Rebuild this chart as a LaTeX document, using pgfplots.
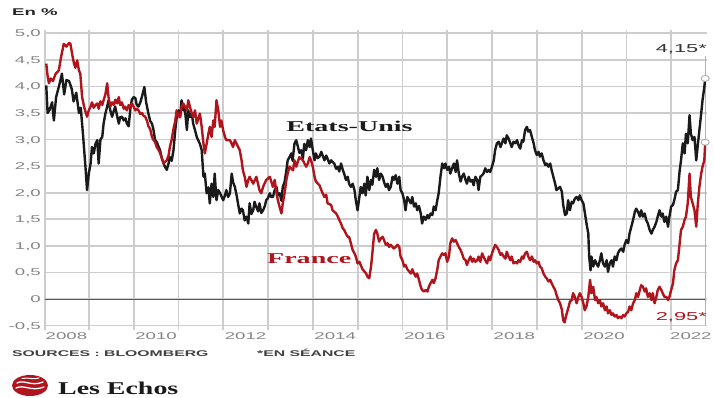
\documentclass[border=0pt]{standalone}
\usepackage{fontspec}
\usepackage{pgfplots}
\usepackage{pgfplotstable}
\pgfplotsset{compat=1.18}
\newfontfamily\sansw[FakeStretch=1.9]{Liberation Sans}
\newfontfamily\serifw[FakeStretch=1.87]{Liberation Serif}
\newfontfamily\serifl[FakeStretch=1.55]{Liberation Serif}
\definecolor{frred}{HTML}{B0141C}
\definecolor{usblack}{HTML}{1A1A1A}
\definecolor{gridc}{HTML}{CDCDCD}
\definecolor{tickc}{HTML}{858585}

\pgfplotstableread{
x y
2008.05 4.02
2008.08 3.50
2008.12 3.55
2008.18 3.70
2008.22 3.36
2008.27 3.80
2008.33 3.99
2008.40 4.24
2008.45 3.85
2008.50 4.12
2008.56 4.10
2008.62 3.95
2008.66 3.72
2008.72 3.88
2008.78 3.50
2008.82 3.60
2008.87 3.10
2008.93 2.43
2008.96 2.05
2009.00 2.36
2009.04 2.55
2009.07 2.86
2009.11 2.74
2009.15 2.92
2009.19 2.99
2009.22 2.55
2009.26 3.00
2009.30 3.05
2009.33 3.30
2009.37 3.49
2009.41 3.62
2009.44 3.74
2009.48 3.55
2009.52 3.43
2009.56 3.55
2009.59 3.62
2009.63 3.45
2009.67 3.30
2009.70 3.42
2009.74 3.43
2009.78 3.36
2009.82 3.40
2009.85 3.30
2009.89 3.25
2009.93 3.60
2009.96 3.75
2010.00 3.80
2010.04 3.78
2010.07 3.65
2010.11 3.62
2010.15 3.70
2010.20 3.85
2010.24 3.99
2010.28 3.70
2010.33 3.49
2010.37 3.35
2010.41 3.30
2010.44 3.20
2010.48 2.99
2010.52 2.95
2010.55 2.88
2010.59 2.80
2010.63 2.65
2010.67 2.55
2010.70 2.49
2010.74 2.43
2010.78 2.55
2010.81 2.67
2010.85 2.60
2010.89 2.80
2010.93 3.18
2010.96 3.40
2011.00 3.55
2011.04 3.45
2011.07 3.74
2011.11 3.55
2011.14 3.61
2011.19 3.18
2011.22 3.55
2011.26 3.42
2011.30 3.49
2011.33 3.30
2011.37 3.18
2011.41 3.05
2011.44 2.99
2011.48 2.92
2011.52 2.80
2011.56 2.30
2011.59 2.36
2011.63 1.99
2011.67 2.10
2011.70 1.80
2011.74 2.17
2011.78 1.92
2011.81 2.36
2011.85 1.86
2011.89 2.05
2011.93 1.99
2012.00 1.86
2012.04 1.95
2012.07 2.05
2012.11 1.92
2012.15 1.99
2012.19 2.36
2012.22 2.20
2012.26 2.11
2012.30 1.95
2012.33 1.80
2012.37 1.61
2012.41 1.70
2012.44 1.67
2012.48 1.48
2012.52 1.55
2012.56 1.42
2012.59 1.80
2012.63 1.60
2012.67 1.67
2012.70 1.83
2012.74 1.73
2012.78 1.65
2012.81 1.80
2012.85 1.62
2012.89 1.67
2012.93 1.75
2012.96 1.86
2013.00 1.90
2013.04 1.99
2013.07 1.92
2013.11 1.92
2013.15 2.05
2013.19 2.11
2013.22 1.95
2013.26 1.99
2013.30 1.85
2013.33 2.11
2013.37 2.20
2013.41 2.42
2013.44 2.61
2013.48 2.67
2013.52 2.74
2013.55 2.60
2013.59 2.92
2013.63 2.99
2013.67 2.86
2013.70 2.75
2013.74 2.80
2013.78 2.65
2013.81 2.92
2013.85 2.80
2013.89 2.99
2013.93 2.86
2013.96 3.02
2014.00 2.80
2014.04 2.61
2014.07 2.74
2014.11 2.65
2014.15 2.68
2014.19 2.77
2014.22 2.70
2014.26 2.61
2014.30 2.70
2014.33 2.64
2014.37 2.55
2014.41 2.61
2014.44 2.58
2014.48 2.55
2014.52 2.45
2014.56 2.49
2014.59 2.40
2014.63 2.55
2014.67 2.43
2014.70 2.36
2014.74 2.24
2014.78 2.30
2014.81 2.17
2014.85 2.11
2014.89 2.17
2014.93 2.05
2014.96 1.86
2015.00 1.67
2015.04 1.92
2015.07 2.11
2015.11 1.99
2015.15 2.17
2015.18 1.95
2015.22 2.30
2015.26 2.05
2015.30 2.24
2015.33 2.15
2015.37 2.43
2015.41 2.30
2015.44 2.46
2015.48 2.24
2015.52 2.36
2015.56 2.30
2015.59 2.20
2015.63 2.11
2015.67 2.17
2015.70 2.05
2015.74 2.11
2015.78 2.30
2015.81 2.24
2015.85 2.33
2015.89 2.17
2015.93 2.30
2015.96 2.05
2016.00 1.99
2016.04 1.86
2016.07 1.67
2016.11 1.92
2016.15 1.86
2016.19 1.80
2016.22 1.92
2016.26 1.74
2016.30 1.80
2016.33 1.67
2016.37 1.75
2016.41 1.61
2016.44 1.42
2016.48 1.55
2016.52 1.49
2016.56 1.58
2016.59 1.52
2016.63 1.61
2016.67 1.58
2016.70 1.74
2016.74 1.67
2016.78 1.86
2016.81 1.99
2016.85 2.30
2016.89 2.55
2016.93 2.46
2016.96 2.55
2017.00 2.43
2017.04 2.49
2017.07 2.36
2017.11 2.46
2017.15 2.55
2017.19 2.39
2017.22 2.61
2017.26 2.36
2017.30 2.21
2017.33 2.30
2017.37 2.36
2017.41 2.24
2017.44 2.17
2017.48 2.30
2017.52 2.21
2017.56 2.24
2017.59 2.14
2017.63 2.30
2017.67 2.24
2017.70 2.05
2017.74 2.30
2017.78 2.33
2017.81 2.36
2017.85 2.46
2017.89 2.39
2017.93 2.43
2017.96 2.39
2018.00 2.49
2018.04 2.61
2018.07 2.80
2018.11 2.93
2018.15 2.96
2018.19 2.86
2018.22 2.93
2018.26 3.02
2018.30 2.93
2018.33 3.08
2018.37 3.02
2018.41 2.93
2018.44 2.86
2018.48 2.96
2018.52 2.93
2018.56 2.99
2018.59 2.90
2018.63 2.83
2018.67 2.99
2018.70 2.96
2018.74 3.18
2018.78 3.24
2018.81 3.15
2018.85 3.18
2018.89 3.05
2018.93 2.93
2018.96 2.80
2019.00 2.71
2019.04 2.77
2019.07 2.68
2019.11 2.74
2019.15 2.61
2019.19 2.52
2019.22 2.55
2019.26 2.49
2019.30 2.55
2019.33 2.43
2019.37 2.30
2019.41 2.17
2019.44 2.05
2019.48 2.08
2019.52 2.11
2019.56 2.02
2019.59 1.77
2019.63 1.58
2019.67 1.61
2019.70 1.86
2019.74 1.67
2019.78 1.83
2019.81 1.80
2019.85 1.89
2019.89 1.92
2019.93 1.86
2019.96 1.95
2020.00 1.86
2020.04 1.80
2020.07 1.64
2020.11 1.42
2020.15 1.23
2020.17 0.80
2020.20 0.54
2020.22 0.80
2020.26 0.61
2020.30 0.73
2020.33 0.67
2020.37 0.61
2020.41 0.73
2020.44 0.86
2020.48 0.67
2020.52 0.61
2020.56 0.73
2020.59 0.51
2020.63 0.67
2020.67 0.73
2020.70 0.61
2020.74 0.80
2020.78 0.73
2020.81 0.86
2020.85 0.92
2020.89 0.95
2020.93 0.89
2020.96 1.02
2021.00 1.11
2021.04 1.05
2021.07 1.23
2021.11 1.36
2021.15 1.49
2021.19 1.64
2021.22 1.70
2021.26 1.64
2021.30 1.55
2021.33 1.67
2021.37 1.55
2021.41 1.61
2021.44 1.49
2021.48 1.42
2021.52 1.30
2021.56 1.23
2021.59 1.30
2021.63 1.36
2021.67 1.45
2021.70 1.55
2021.74 1.67
2021.78 1.55
2021.81 1.61
2021.85 1.45
2021.89 1.55
2021.93 1.36
2021.96 1.55
2022.00 1.74
2022.04 1.77
2022.07 1.86
2022.11 2.02
2022.15 2.05
2022.19 2.42
2022.22 2.61
2022.26 2.93
2022.30 2.74
2022.33 3.11
2022.37 2.93
2022.41 3.46
2022.44 3.11
2022.48 2.99
2022.52 3.05
2022.56 2.61
2022.59 2.86
2022.63 3.18
2022.67 3.49
2022.70 3.74
2022.74 3.99
2022.76 4.15
}\usdata

\pgfplotstableread{
x y
2008.05 4.43
2008.08 4.20
2008.11 4.06
2008.15 4.15
2008.20 4.10
2008.26 4.24
2008.33 4.30
2008.38 4.55
2008.44 4.80
2008.50 4.75
2008.56 4.82
2008.59 4.80
2008.63 4.60
2008.67 4.43
2008.70 4.35
2008.74 4.49
2008.78 4.30
2008.81 4.24
2008.85 3.80
2008.90 3.60
2008.96 3.43
2009.00 3.55
2009.04 3.62
2009.07 3.70
2009.11 3.60
2009.15 3.65
2009.19 3.68
2009.22 3.58
2009.26 3.72
2009.30 3.65
2009.33 3.74
2009.37 3.85
2009.41 4.06
2009.44 3.80
2009.48 3.62
2009.52 3.70
2009.56 3.65
2009.59 3.75
2009.63 3.68
2009.67 3.80
2009.70 3.65
2009.74 3.70
2009.78 3.58
2009.81 3.62
2009.85 3.55
2009.89 3.65
2009.93 3.60
2009.96 3.68
2010.00 3.62
2010.04 3.55
2010.07 3.58
2010.11 3.55
2010.15 3.48
2010.19 3.50
2010.22 3.45
2010.26 3.43
2010.30 3.35
2010.33 3.25
2010.37 3.20
2010.41 3.05
2010.44 3.00
2010.48 2.95
2010.52 2.85
2010.56 2.80
2010.59 2.75
2010.63 2.65
2010.67 2.55
2010.70 2.58
2010.74 2.61
2010.78 2.70
2010.81 2.86
2010.85 3.00
2010.89 3.20
2010.93 3.35
2010.96 3.55
2011.00 3.45
2011.04 3.42
2011.07 3.61
2011.11 3.68
2011.19 3.55
2011.22 3.74
2011.26 3.61
2011.30 3.49
2011.33 3.42
2011.37 3.55
2011.41 3.30
2011.48 3.49
2011.52 3.24
2011.56 2.92
2011.59 2.74
2011.63 2.92
2011.67 3.11
2011.70 3.24
2011.74 3.05
2011.78 3.36
2011.81 3.24
2011.85 3.74
2011.89 3.55
2011.93 3.24
2011.96 3.36
2012.00 3.17
2012.04 3.05
2012.07 2.99
2012.15 2.99
2012.19 2.92
2012.22 2.86
2012.26 2.99
2012.30 2.92
2012.37 2.80
2012.41 2.61
2012.44 2.42
2012.48 2.30
2012.52 2.11
2012.56 2.24
2012.59 2.30
2012.67 2.17
2012.74 2.30
2012.81 2.05
2012.85 1.99
2012.89 2.11
2012.96 2.24
2013.04 2.30
2013.11 2.11
2013.15 2.24
2013.19 1.99
2013.22 1.86
2013.26 1.73
2013.30 1.61
2013.33 1.80
2013.37 1.99
2013.41 2.24
2013.44 2.36
2013.48 2.49
2013.56 2.42
2013.59 2.61
2013.63 2.49
2013.70 2.67
2013.78 2.61
2013.85 2.49
2013.89 2.55
2013.93 2.67
2013.96 2.61
2014.00 2.49
2014.04 2.30
2014.07 2.21
2014.15 2.14
2014.19 2.05
2014.22 1.99
2014.26 1.92
2014.30 1.96
2014.33 1.80
2014.41 1.77
2014.44 1.67
2014.52 1.61
2014.56 1.55
2014.59 1.49
2014.63 1.42
2014.67 1.33
2014.70 1.30
2014.74 1.23
2014.78 1.17
2014.81 1.17
2014.85 1.05
2014.89 0.92
2014.93 0.86
2014.96 0.80
2015.00 0.67
2015.04 0.70
2015.07 0.64
2015.11 0.56
2015.19 0.48
2015.22 0.42
2015.26 0.39
2015.30 0.61
2015.33 0.86
2015.37 1.23
2015.41 1.30
2015.44 1.23
2015.48 1.08
2015.52 1.14
2015.56 1.17
2015.59 1.11
2015.63 1.02
2015.67 1.05
2015.70 0.98
2015.74 1.02
2015.78 0.98
2015.81 0.95
2015.85 0.98
2015.89 1.02
2015.93 0.98
2015.96 0.80
2016.00 0.73
2016.04 0.61
2016.07 0.64
2016.11 0.56
2016.19 0.48
2016.22 0.56
2016.26 0.48
2016.30 0.42
2016.33 0.48
2016.37 0.36
2016.41 0.23
2016.44 0.17
2016.48 0.14
2016.52 0.17
2016.56 0.14
2016.59 0.23
2016.63 0.30
2016.67 0.36
2016.70 0.30
2016.74 0.39
2016.78 0.56
2016.81 0.73
2016.85 0.80
2016.89 0.86
2016.93 0.83
2016.96 0.86
2017.00 0.70
2017.04 0.80
2017.07 1.05
2017.11 1.14
2017.15 1.08
2017.19 1.11
2017.22 1.05
2017.26 0.98
2017.30 0.92
2017.33 0.86
2017.37 0.76
2017.41 0.73
2017.44 0.64
2017.48 0.73
2017.52 0.80
2017.56 0.70
2017.59 0.76
2017.63 0.70
2017.67 0.73
2017.70 0.80
2017.74 0.70
2017.78 0.86
2017.81 0.80
2017.85 0.73
2017.89 0.67
2017.93 0.80
2017.96 0.73
2018.00 0.86
2018.04 0.95
2018.07 1.02
2018.11 0.98
2018.15 0.92
2018.19 0.83
2018.22 0.86
2018.26 0.80
2018.30 0.76
2018.33 0.89
2018.37 0.80
2018.41 0.73
2018.44 0.80
2018.48 0.67
2018.52 0.70
2018.56 0.67
2018.59 0.73
2018.63 0.70
2018.67 0.80
2018.70 0.76
2018.74 0.86
2018.78 0.89
2018.81 0.80
2018.85 0.73
2018.89 0.80
2018.93 0.70
2018.96 0.73
2019.00 0.67
2019.04 0.70
2019.07 0.61
2019.11 0.58
2019.15 0.48
2019.19 0.42
2019.22 0.39
2019.26 0.33
2019.30 0.36
2019.33 0.30
2019.37 0.23
2019.41 0.17
2019.44 0.08
2019.48 -0.02
2019.52 -0.08
2019.56 -0.20
2019.59 -0.40
2019.62 -0.44
2019.66 -0.30
2019.70 -0.18
2019.74 -0.05
2019.78 -0.02
2019.81 0.11
2019.85 0.04
2019.89 -0.08
2019.93 0.04
2019.96 0.11
2020.00 0.04
2020.04 -0.08
2020.07 -0.21
2020.11 -0.14
2020.15 0.04
2020.19 0.36
2020.22 0.11
2020.26 0.23
2020.30 -0.02
2020.33 0.04
2020.37 -0.08
2020.41 -0.02
2020.44 -0.14
2020.48 -0.08
2020.52 -0.21
2020.56 -0.14
2020.59 -0.27
2020.63 -0.21
2020.67 -0.30
2020.70 -0.27
2020.74 -0.33
2020.78 -0.30
2020.81 -0.36
2020.85 -0.33
2020.89 -0.36
2020.93 -0.30
2020.96 -0.33
2021.00 -0.27
2021.04 -0.24
2021.07 -0.14
2021.11 -0.21
2021.15 -0.08
2021.19 -0.02
2021.22 0.11
2021.26 0.04
2021.30 0.17
2021.33 0.26
2021.37 0.23
2021.41 0.14
2021.44 0.20
2021.48 0.04
2021.52 0.11
2021.56 -0.02
2021.59 0.11
2021.63 -0.08
2021.67 0.04
2021.70 0.17
2021.74 0.23
2021.78 0.17
2021.81 0.11
2021.85 0.04
2021.89 0.04
2021.93 -0.02
2021.96 0.04
2022.00 0.17
2022.04 0.29
2022.07 0.54
2022.11 0.67
2022.15 0.73
2022.19 1.05
2022.22 1.30
2022.26 1.36
2022.30 1.49
2022.33 1.55
2022.37 1.80
2022.41 2.36
2022.44 1.92
2022.48 1.80
2022.52 1.67
2022.56 1.36
2022.59 1.74
2022.63 2.11
2022.67 2.36
2022.70 2.49
2022.74 2.61
2022.76 2.95
}\frdata

\begin{document}
\begin{tikzpicture}
\path[use as bounding box] (0bp,0bp) rectangle (714bp,398bp);
\foreach \gx in {45.0,88.8,133.6,178.4,223.2,268.0,312.8,357.6,402.4,447.2,492.0,536.8,581.6,626.4,671.2}{
  \fill[gridc] (\gx bp-0.9bp,68bp) rectangle (\gx bp+0.9bp,368bp);
}
\foreach \gy in {72.4,99.0,125.5,152.1,178.7,205.3,231.8,258.4,285.0,311.5,338.1,364.7}{
  \fill[gridc] (45bp,\gy bp-0.9bp) rectangle (707bp,\gy bp+0.9bp);
}
\begin{axis}[
  at={(45bp,68bp)}, anchor=south west,
  scale only axis, width=662bp, height=300bp,
  xmin=2008.022, xmax=2022.80, ymin=-0.583, ymax=5.062,
  clip=false,
  axis line style={draw=none},
  major tick length=0pt, minor tick length=0pt,
  xtick={2008.5,2010.5,2012.5,2014.5,2016.5,2018.5,2020.5,2022.44},
  xticklabels={2008,2010,2012,2014,2016,2018,2020,2022},
  ytick={-0.5,0,0.5,1,1.5,2,2.5,3,3.5,4,4.5,5},
  yticklabels={{-0,5},{0},{0,5},{1,0},{1,5},{2,0},{2,5},{3,0},{3,5},{4,0},{4,5},{5,0}},
  tick label style={font=\sansw\fontsize{9.8bp}{10bp}\selectfont, text=tickc},
  yticklabel style={anchor=east, inner sep=0pt, xshift=-4bp, text height=7bp, text depth=0pt},
  xticklabel style={anchor=north, inner sep=0pt, yshift=-2.5bp, text height=7bp, text depth=0pt},
]
\addplot[black!65, line width=0.9bp, forget plot] coordinates {(2008.022,0) (2022.76,0)};
\addplot[gray!60, line width=1.3bp] coordinates {(2022.76,4.57) (2022.76,-0.48)};
\addplot[usblack, line width=2.4bp, line join=round] table[x=x,y=y] {\usdata};
\addplot[frred, line width=2.4bp, line join=round] table[x=x,y=y] {\frdata};
\addplot[only marks, mark=*, mark size=3bp, mark options={fill=white, draw=gray!70, line width=0.8bp, xscale=1.35}] coordinates {(2022.76,4.15) (2022.76,2.95)};
\node[anchor=base east, inner sep=0pt, font=\sansw\fontsize{11.5bp}{12bp}\selectfont, text=black!80] at (axis cs:2022.80,4.63) {4,15*};
\node[anchor=base east, inner sep=0pt, font=\sansw\fontsize{11.5bp}{12bp}\selectfont, text=frred] at (axis cs:2022.80,-0.395) {2,95*};
\node[anchor=base, inner sep=0pt, font=\serifw\bfseries\fontsize{15bp}{16bp}\selectfont, text=usblack] at (axis cs:2014.82,3.16) {Etats-Unis};
\node[anchor=base, inner sep=0pt, font=\serifw\bfseries\fontsize{15bp}{16bp}\selectfont, text=frred] at (axis cs:2013.92,0.66) {France};
\end{axis}
\node[anchor=base west, inner sep=0pt, font=\sansw\bfseries\fontsize{9.8bp}{10bp}\selectfont, text=black!85] at (12bp,382bp) {En \%};
\node[anchor=base west, inner sep=0pt, font=\sansw\bfseries\fontsize{8.3bp}{9bp}\selectfont, text=black!75] at (12bp,41bp) {SOURCES : BLOOMBERG};
\node[anchor=base west, inner sep=0pt, font=\sansw\bfseries\fontsize{8.3bp}{9bp}\selectfont, text=black!75] at (257bp,41bp) {*EN SÉANCE};
\fill[frred] (30bp,12.5bp) ellipse [x radius=18bp, y radius=10.5bp];
\draw[white, line width=1.3bp, line cap=round] (17bp,15bp) .. controls (24bp,19bp) and (31bp,11bp) .. (43bp,16bp);
\draw[white, line width=1.3bp, line cap=round] (16bp,10bp) .. controls (24bp,14bp) and (31bp,6bp) .. (44bp,11bp);
\draw[white, line width=1bp, line cap=round] (22bp,19.5bp) .. controls (28bp,21bp) and (33bp,18bp) .. (39bp,20bp);
\node[anchor=base west, inner sep=0pt, font=\serifl\bfseries\fontsize{18bp}{19bp}\selectfont, text=black!90] at (58bp,4bp) {Les Echos};
\end{tikzpicture}
\end{document}
